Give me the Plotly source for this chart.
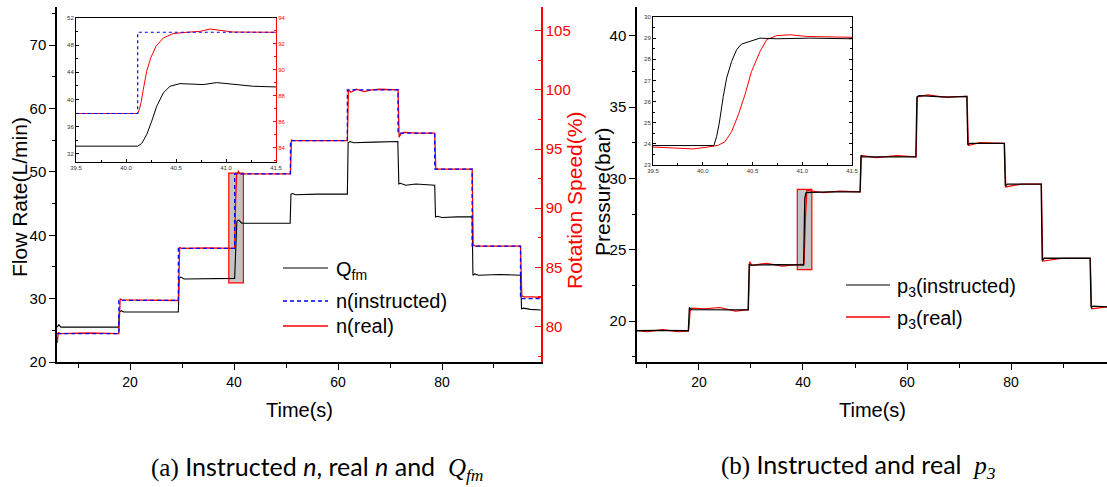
import plotly.graph_objects as go

W, H = 1107, 487
def px(x):
    return x / W
def py(y):
    return 1 - y / H

# ---------------- data ----------------
# (a) flow rate Q_fm [L/min]
Q_time = [6.0, 6.3, 6.7, 12.0, 17.8, 17.95, 18.3, 18.8, 24.0, 29.3, 29.45, 29.8, 30.4, 35.0, 40.12,
          40.3, 40.55, 40.9, 41.5, 45.0, 50.8, 50.95, 51.3, 51.8, 56.0, 61.8, 61.95, 62.3, 63.0, 67.0,
          71.5, 71.7, 72.0, 73.0, 75.0, 78.6, 78.75, 79.1, 80.0, 83.0, 85.8, 85.95, 86.3, 87.0, 91.0,
          95.1, 95.3, 95.7, 97.0, 99.0]
Q_val = [25.5, 25.9, 25.5, 25.5, 25.5, 27.9, 28.1, 27.9, 27.9, 27.9, 33.2, 33.4, 33.1, 33.2, 33.2,
         37.0, 42.2, 42.4, 41.9, 41.9, 41.9, 46.5, 46.6, 46.4, 46.5, 46.5, 54.6, 54.8, 54.6, 54.7,
         54.8, 48.1, 48.2, 47.9, 48.1, 47.9, 42.9, 43.0, 42.8, 42.9, 42.9, 33.7, 33.9, 33.7, 33.8,
         33.7, 28.4, 28.5, 28.3, 28.2]

# (a) instructed rotation speed n [%] (step series)
n_inst_time = [6.0, 17.85, 29.3, 40.12, 50.85, 61.8, 71.55, 78.6, 85.8, 95.1, 99.0]
n_inst_val = [79.4, 82.2, 86.6, 92.9, 95.7, 100.0, 96.35, 93.3, 86.8, 82.35, 82.35]

# (a) real rotation speed n [%]
n_real_time = [6.0, 6.2, 6.5, 12.0, 17.85, 18.1, 18.4, 24.0, 29.3, 29.55, 29.9, 35.0, 40.12, 40.3,
               40.5, 40.85, 41.2, 45.0, 50.85, 51.05, 51.4, 56.0, 61.8, 62.0, 62.5, 63.5, 65.0, 66.5,
               68.0, 71.55, 71.75, 72.1, 72.8, 75.0, 78.6, 78.8, 79.2, 82.0, 85.8, 86.0, 86.4, 90.0,
               95.1, 95.35, 95.8, 97.5, 99.0]
n_real_val = [78.6, 79.5, 79.4, 79.45, 79.4, 82.35, 82.25, 82.2, 82.2, 86.7, 86.6, 86.65, 86.6, 90.5,
              92.85, 93.1, 92.9, 92.9, 92.9, 95.75, 95.7, 95.7, 95.7, 100.0, 99.8, 100.05, 99.85, 100.0,
              100.05, 100.0, 96.0, 96.3, 96.4, 96.35, 96.35, 93.35, 93.3, 93.3, 93.3, 86.9, 86.8, 86.8,
              86.8, 82.6, 82.5, 82.5, 82.45]

# (a) inset, 39.5 s - 41.5 s
ins_q_time = [39.5, 40.117, 40.157, 40.207, 40.257, 40.307, 40.373, 40.44, 40.54, 40.673, 40.773,
              40.907, 41.073, 41.273, 41.5]
ins_q_val = [33.13, 33.13, 33.52, 34.84, 36.8, 39.0, 40.97, 41.95, 42.34, 42.3, 42.2, 42.49, 42.2,
             41.95, 41.85]
ins_nr_time = [39.5, 40.117, 40.133, 40.15, 40.173, 40.207, 40.247, 40.3, 40.373, 40.473, 40.607,
               40.74, 40.84, 40.94, 41.07, 41.5]
ins_nr_val = [86.64, 86.64, 86.95, 87.46, 88.49, 89.9, 90.92, 91.82, 92.46, 92.8, 92.9, 92.97, 93.15,
              93.05, 92.92, 92.9]
ins_ni_time = [39.5, 40.117, 41.5]
ins_ni_val = [86.64, 92.9, 92.9]

# (b) pressure p3 [bar]
p3_inst_time = [8.08, 12.0, 17.95, 18.15, 18.5, 19.5, 24.0, 29.45, 29.65, 30.0, 35.0, 40.12, 40.35,
                40.6, 45.0, 50.97, 51.15, 51.5, 56.0, 61.7, 61.9, 62.3, 65.0, 68.0, 71.5, 71.7, 72.1,
                75.0, 78.7, 78.9, 79.3, 82.0, 85.8, 86.0, 86.4, 90.0, 95.2, 95.4, 95.8, 98.46]
p3_inst_val = [19.32, 19.35, 19.32, 20.95, 20.8, 20.8, 20.8, 20.78, 23.95, 23.92, 23.95, 23.93, 28.6,
               29.0, 29.05, 29.05, 31.6, 31.5, 31.5, 31.5, 35.7, 35.8, 35.75, 35.7, 35.75, 32.35,
               32.45, 32.45, 32.45, 29.45, 29.6, 29.6, 29.6, 24.25, 24.4, 24.4, 24.4, 20.95, 21.05,
               21.0]
p3_real_time = [8.08, 10.0, 13.0, 16.0, 18.0, 18.3, 18.6, 21.0, 24.0, 27.0, 29.5, 29.75, 30.2, 33.0,
                36.0, 39.0, 40.2, 40.5, 40.75, 44.0, 47.0, 51.0, 51.25, 54.0, 58.0, 61.75, 62.0, 64.0,
                67.0, 71.55, 71.8, 74.0, 78.75, 79.0, 82.0, 85.85, 86.1, 90.0, 95.25, 95.5, 98.46]
p3_real_val = [19.35, 19.25, 19.4, 19.25, 19.3, 20.7, 20.9, 20.85, 20.95, 20.7, 20.8, 24.15, 23.9,
               24.05, 23.85, 23.95, 24.0, 27.4, 29.15, 29.0, 29.1, 29.05, 31.6, 31.45, 31.6, 31.5,
               35.7, 35.85, 35.7, 35.75, 32.3, 32.5, 32.45, 29.4, 29.6, 29.6, 24.2, 24.4, 24.4, 20.85,
               21.0]

# (b) inset
ins_pi_time = [39.5, 40.112, 40.139, 40.166, 40.206, 40.24, 40.29, 40.34, 40.39, 40.475, 40.576,
               40.744, 41.08, 41.5]
ins_pi_val = [23.92, 23.92, 24.34, 24.98, 26.24, 27.11, 27.9, 28.45, 28.72, 28.86, 29.0, 28.97, 29.0,
              28.97]
ins_pr_time = [39.5, 39.7, 39.9, 40.04, 40.155, 40.223, 40.29, 40.357, 40.424, 40.49, 40.576, 40.643,
               40.744, 40.878, 41.046, 41.5]
ins_pr_val = [23.85, 23.82, 23.76, 23.84, 23.93, 24.1, 24.58, 25.37, 26.32, 27.42, 28.37, 28.93, 29.12,
              29.16, 29.08, 29.04]

# highlighted windows
box_a = dict(t0=39.0, t1=41.8, v0=32.5, v1=49.8)
box_b = dict(t0=38.9, t1=41.7, v0=23.6, v1=29.23)

# ---------------- figure ----------------
FONT = "Liberation Sans"
fig = go.Figure()

def line(x, y, xa, ya, color, width, dash=None, shape='linear'):
    fig.add_trace(go.Scatter(x=x, y=y, mode='lines', xaxis=xa, yaxis=ya, showlegend=False,
                             hoverinfo='skip',
                             line=dict(color=color, width=width, dash=dash, shape=shape)))

line(Q_time, Q_val, 'x', 'y', 'black', 1.1)
line(n_real_time, n_real_val, 'x', 'y2', 'red', 1.3)
line(n_inst_time, n_inst_val, 'x', 'y2', 'blue', 1.3, '4px,3px', 'hv')
line(p3_real_time, p3_real_val, 'x2', 'y3', 'red', 1.2)
line(p3_inst_time, p3_inst_val, 'x2', 'y3', 'black', 1.3)
line(ins_q_time, ins_q_val, 'x3', 'y5', 'black', 1.0)
line(ins_nr_time, ins_nr_val, 'x3', 'y6', 'red', 1.0)
line(ins_ni_time, ins_ni_val, 'x3', 'y6', 'blue', 1.2, 'dot', 'hv')
line(ins_pr_time, ins_pr_val, 'x4', 'y7', 'red', 1.0)
line(ins_pi_time, ins_pi_val, 'x4', 'y7', 'black', 1.0)

LDOM_X = [px(57), px(541)]
RDOM_X = [px(637), 1.0]
MDOM_Y = [py(362), py(7)]

base = dict(showgrid=False, zeroline=False, showline=True, linewidth=1.5, linecolor='black',
            tickcolor='black', ticks='outside', ticklen=6, tickwidth=1.2, automargin=False)

def minor(d, length, ticks='outside', color='black'):
    return dict(dtick=d, ticklen=length, ticks=ticks, tickcolor=color, tickwidth=1.0, showgrid=False)

inset_font = dict(family=FONT, size=6, color='#333333')

fig.update_layout(
    template='none',
    width=W, height=H, autosize=False,
    margin=dict(l=0, r=0, t=0, b=0, pad=0),
    paper_bgcolor='white', plot_bgcolor='white',
    font=dict(family=FONT, color='black'),
    showlegend=False,
    # (a) main
    xaxis=dict(base, domain=LDOM_X, anchor='y', range=[5.96, 99.04], tickvals=[20, 40, 60, 80],
               tickfont=dict(size=14), minor=minor(10, 4)),
    yaxis=dict(base, domain=MDOM_Y, anchor='x', range=[20, 76.03], dtick=10,
               tickfont=dict(size=15), minor=minor(5, 3)),
    yaxis2=dict(base, overlaying='y', side='right', anchor='x', range=[77, 107], dtick=5,
                linecolor='red', tickcolor='red', ticks='inside', tickfont=dict(size=15, color='red'),
                minor=minor(2.5, 3, 'inside', 'red')),
    xaxis5=dict(base, overlaying='x', side='top', anchor='y', range=[5.96, 99.04],
                tickvals=[10, 20, 30, 40, 50, 60, 70, 80, 90], ticks='inside', showticklabels=False),
    # (b) main
    xaxis2=dict(base, domain=RDOM_X, anchor='y3', range=[8.08, 98.46], tickvals=[20, 40, 60, 80],
                tickfont=dict(size=14), minor=minor(10, 4)),
    yaxis3=dict(base, domain=MDOM_Y, anchor='x2', range=[17.13, 42.01], dtick=5,
                tickfont=dict(size=15), minor=minor(2.5, 3)),
    yaxis4=dict(base, overlaying='y3', side='right', anchor='x2', range=[17.13, 42.01], dtick=5,
                showline=False, ticks='inside', showticklabels=False, minor=minor(2.5, 3, 'inside')),
    xaxis6=dict(base, overlaying='x2', side='top', anchor='y3', range=[8.08, 98.46],
                tickvals=[10, 20, 30, 40, 50, 60, 70, 80, 90], ticks='inside', showticklabels=False),
    # (a) inset
    xaxis3=dict(base, domain=[px(76), px(276)], anchor='y5', range=[39.5, 41.5], dtick=0.5, tick0=39.5,
                tickformat='.1f', linewidth=1, ticks='inside', ticklen=3, tickwidth=0.8, mirror=True,
                tickfont=inset_font, minor=minor(0.25, 2, 'inside')),
    yaxis5=dict(base, domain=[py(162), py(18)], anchor='x3', range=[30.8, 52], dtick=4, tick0=32,
                linewidth=1, ticks='inside', ticklen=3, tickwidth=0.8, tickfont=inset_font,
                minor=minor(2, 2, 'inside')),
    yaxis6=dict(base, overlaying='y5', side='right', anchor='x3', range=[82.9, 94], dtick=2, tick0=84,
                linewidth=1, linecolor='red', tickcolor='red', ticks='inside', ticklen=3, tickwidth=0.8,
                tickfont=dict(family=FONT, size=6, color='red'), minor=minor(1, 2, 'inside', 'red')),
    # (b) inset
    xaxis4=dict(base, domain=[px(653), px(852)], anchor='y7', range=[39.5, 41.5], dtick=0.5, tick0=39.5,
                tickformat='.1f', linewidth=1, ticks='inside', ticklen=3, tickwidth=0.8, mirror=True,
                tickfont=inset_font, minor=minor(0.25, 2, 'inside')),
    yaxis7=dict(base, domain=[py(165), py(17)], anchor='x4', range=[23, 30], dtick=1,
                linewidth=1, ticks='inside', ticklen=3, tickwidth=0.8, mirror='ticks',
                tickfont=inset_font, minor=minor(0.5, 2, 'inside')),
)

# highlighted windows (behind the lines)
fig.add_shape(type='rect', xref='x', yref='y', x0=box_a['t0'], x1=box_a['t1'], y0=box_a['v0'],
              y1=box_a['v1'], fillcolor='#c4c4c4', line=dict(color='red', width=1.2), layer='below')
fig.add_shape(type='rect', xref='x2', yref='y3', x0=box_b['t0'], x1=box_b['t1'], y0=box_b['v0'],
              y1=box_b['v1'], fillcolor='#c4c4c4', line=dict(color='red', width=1.2), layer='below')

# legends (drawn by hand to match the original layout)
def leg_line(x0, x1, y, color, width, dash='solid'):
    fig.add_shape(type='line', xref='paper', yref='paper', x0=px(x0), x1=px(x1), y0=py(y), y1=py(y),
                  line=dict(color=color, width=width, dash=dash))

def text(x, y, s, size, color='black', xanchor='left', angle=0, family=FONT):
    fig.add_annotation(x=px(x), y=py(y), xref='paper', yref='paper', text=s, showarrow=False,
                       xanchor=xanchor, yanchor='middle', textangle=angle,
                       font=dict(family=family, size=size, color=color))

leg_line(283, 328, 268, 'black', 1.2)
leg_line(283, 328, 301, 'blue', 1.3, '4px,3px')
leg_line(283, 328, 326, '#ff4040', 2.0)
text(334, 270, 'Q<sub>fm</sub>', 20)
text(334, 301, 'n(instructed)', 20)
text(334, 326, 'n(real)', 20)

leg_line(846, 890, 285, 'black', 1.2)
leg_line(846, 890, 317, '#ff4040', 2.0)
text(895, 287, 'p<sub>3</sub>(instructed)', 20)
text(895, 319, 'p<sub>3</sub>(real)', 20)

# axis titles
text(20, 197, 'Flow Rate(L/min)', 21, xanchor='center', angle=-90)
text(574, 201, 'Rotation Speed(%)', 21, color='red', xanchor='center', angle=-90)
text(602, 192, 'Pressure(bar)', 21, xanchor='center', angle=-90)
text(299, 410, 'Time(s)', 20, xanchor='center')
text(872, 410, 'Time(s)', 20, xanchor='center')

# captions
text(317, 468, '<span style="font-family:Liberation Serif">(a)</span> Instructed <i>n</i>, real <i>n</i> and &nbsp;'
     '<span style="font-family:Liberation Serif"><i>Q<sub>fm</sub></i></span>', 25, xanchor='center', family='Lato')
text(858, 466, '<span style="font-family:Liberation Serif">(b)</span> Instructed and real &nbsp;'
     '<span style="font-family:Liberation Serif"><i>p<sub>3</sub></i></span>', 25, xanchor='center', family='Lato')

fig.write_html("out.html", config={'displayModeBar': False},
               post_script="document.body.style.margin='0';document.body.style.overflow='hidden';")
